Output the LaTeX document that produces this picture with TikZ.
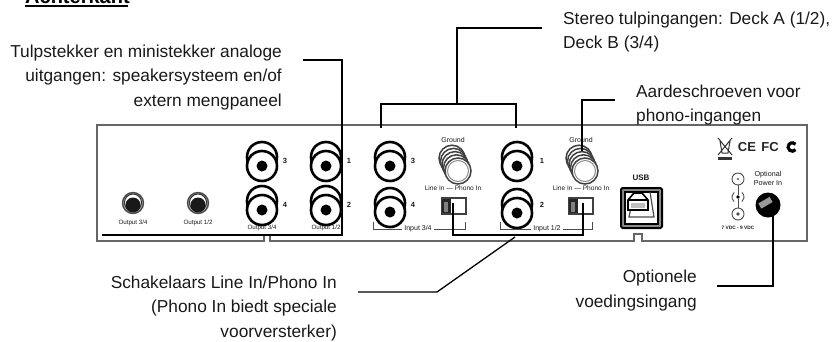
\documentclass[tikz,border=0pt]{standalone}
\usepackage{fontspec}
\setmainfont{Liberation Sans}
\usepackage{tikz}
\begin{document}
\begin{tikzpicture}[x=1pt,y=-1pt,
  callout/.style={font=\fontsize{17.3}{24.5}\selectfont,text=black!90,inner sep=0pt},
  tiny/.style={font=\fontsize{6.2}{9}\selectfont,text=black!90,inner sep=0pt},
  leader/.style={draw=black,line width=1.3pt},
  panel/.style={draw=black!60,line width=1.6pt},
  rca/.pic={
    \draw[line width=2.6pt] (0,-9) circle (15);
    \draw[line width=2.6pt,fill=white] (0,0) circle (15);
    \fill (0,0) circle (5.5);},
  minijack/.pic={
    \draw[black!70,line width=1.4pt,fill=black!35] (0,-1) circle (10.5);
    \draw[black!80,line width=1pt,fill=white] (0,-1.5) circle (8.5);
    \fill[black!90] (0,1) circle (7.5);},
  screw/.pic={
    \foreach \k in {4,3,2,1,0}
      \draw[black!75,line width=1.5pt,fill=white] (-1.5*\k,-3.2*\k) circle (13);
    \draw[black!45,line width=1pt] (0,0) circle (10.5);},
  slider/.pic={
    \draw[black!75,line width=1.3pt,fill=white] (-12,-8) rectangle (12,8);
    \fill[black!85] (-12,-7) rectangle (-3,7);
    \fill[black!50] (-10,-4) rectangle (-6,6);},
  bracket/.style={draw=black!70,line width=.9pt},
  ]
\useasboundingbox (0,0) rectangle (832,341);
% heading
\node[anchor=base west,inner sep=0pt,font=\fontsize{20}{22}\selectfont\bfseries] (title) at (25,3.5) {Achterkant};
\draw[black,line width=1.3pt] (25,6) -- (128,6);
% panel
\coordinate (pa) at (97,125);
\draw[panel] (pa) -- (807,125) -- (807,241) -- (642,241) -- (642,234) -- (634,234) -- (634,241)
  -- (270,241) -- (270,235) -- (264,235) -- (264,241) -- (97,241) -- cycle;
% connectors on the panel
\path (262,166) pic {rca} (262,210) pic {rca} (326,166) pic {rca} (326,210) pic {rca}
  (390,166) pic {rca} (390,212) pic {rca} (517,166) pic {rca} (517,213) pic {rca};
\path (133,204) pic {minijack} (198,204) pic {minijack};
\path (458,171) pic {screw} (585,171) pic {screw};
\path (454,206) pic {slider} (581,206) pic {slider};
\foreach \nr/\xx/\yy in {3/285/161,4/285/205,1/349/161,2/349/205,3/413/161,4/413/205,1/542/161,2/542/205}
  \node[tiny,font=\fontsize{7.5}{9}\selectfont\bfseries] (nr\nr\xx) at (\xx,\yy) {\nr};
\foreach \tx/\xx/\yy in {Output 3\slash 4/133/223,Output 1\slash 2/198/223,Output 3\slash 4/262/228,Output 1\slash 2/326/228}
  \node[tiny] at (\xx,\yy) {\tx};
\foreach \tx/\xx/\yy in {Input 3\slash 4/418/229,Input 1\slash 2/547/229,Ground/453/140,Ground/581/140}
  \node[tiny,font=\fontsize{7}{9}\selectfont] at (\xx,\yy) {\tx};
\node[tiny,font=\fontsize{6.6}{9}\selectfont] (sw34) at (453,188) {Line In --- Phono In};
\node[tiny,font=\fontsize{6.6}{9}\selectfont] (sw12) at (581,188) {Line In --- Phono In};
\draw[bracket] (373,222) -- (373,229) -- (402,229) (434,229) -- (465,229) -- (465,222);
\draw[bracket] (500,222) -- (500,229) -- (531,229) (563,229) -- (592,229) -- (592,222);
% usb
\node[tiny,font=\fontsize{8}{9}\selectfont\bfseries] (usblabel) at (641,178) {USB};
\node[draw=black,line width=2pt,rounded corners=1.5pt,fill=black!45,minimum width=41pt,minimum height=40pt,inner sep=0pt] (usb) at (641.5,208) {};
\draw[black,line width=2pt,fill=white] (625,192) rectangle (658,224);
\draw[black!70,line width=1.2pt] (634,192) -- (629,217) -- (654,217) -- (650,192);
\draw[black,line width=1.6pt,fill=white] (628,210) -- (628,200) -- (634,193) -- (642,193) -- (648,200) -- (648,210) -- cycle;
\draw[black,line width=1.8pt] (628,200) -- (648,200);
\fill[black!25] (631,203) rectangle (645,208);
% symbols
\draw[black!80,line width=1pt] (718,138) -- (732,155) (732,138) -- (718,155) (720,141) -- (722,153) -- (728,153) -- (730,141);
\fill[black!80] (718,157) rectangle (732,160);
\node[inner sep=0pt,font=\fontsize{13}{14}\selectfont\bfseries,text=black!85] (ce) at (747,147) {CE};
\node[inner sep=0pt,font=\fontsize{13}{14}\selectfont\bfseries,text=black!85] (fc) at (770,147) {FC};
\draw[black,line width=3.2pt] (795.5,149.7) arc (40:320:4.2);
\node[tiny,align=center,font=\fontsize{7.2}{9}\selectfont] (optional) at (768,178) {Optional\\Power In};
\node[tiny,font=\fontsize{4.8}{9}\selectfont\bfseries] (vdc) at (738,228) {7 VDC - 9 VDC};
\draw[black!70,line width=.9pt] (738,179) circle (6) (738,214) circle (6);
\fill[black!70] (738,179) circle (1.2) (738,214) circle (1.8);
\draw[black!70,line width=.9pt] (734.1,201.6) arc (130:230:6) (741.9,192.4) arc (-50:50:6);
\fill[black] (738,197) circle (1.8);
\draw[black!70,line width=.9pt] (738,185) -- (738,195) (738,199) -- (738,208);
\node[circle,fill=black,minimum size=25pt,inner sep=0pt] (power) at (768,205) {};
\fill[black!40,rotate around={30:(765,203)}] (759,200) rectangle (772,206);
% callout texts
\node[callout,align=right,anchor=north east] (tulptext) at (282,44.3) {Tulpstekker en ministekker analoge\\uitgangen: speakersysteem en/of\\extern mengpaneel};
\node[callout,align=left,anchor=north west] (stereotext) at (563,11.3) {Stereo tulpingangen: Deck A (1/2),\\Deck B (3/4)};
\node[callout,align=left,anchor=north west] (aardetext) at (636,84.3) {Aardeschroeven voor\\phono-ingangen};
\node[callout,align=right,anchor=north east] (schakeltext) at (337,275.3) {Schakelaars Line In/Phono In\\(Phono In biedt speciale\\voorversterker)};
\node[callout,align=right,anchor=north east] (voedingtext) at (697,270) {Optionele\\voedingsingang};
% leaders
\coordinate (tulpA) at (303,60);
\coordinate (tulpB) at (342,60);
\coordinate (tulpC) at (342,235);
\coordinate (tulpD) at (102,235);
\draw[leader] (tulpA) -- (tulpB) -- (tulpC) -- (tulpD);
\coordinate (stereoA) at (542,28);
\coordinate (stereoB) at (457,28);
\coordinate (stereoC) at (457,104);
\coordinate (stereoL) at (381,104);
\coordinate (stereoLe) at (381,128);
\coordinate (stereoR) at (516,104);
\coordinate (stereoRe) at (516,128);
\draw[leader] (stereoA) -- (stereoB) -- (stereoC);
\draw[leader] (stereoLe) -- (stereoL) -- (stereoR) -- (stereoRe);
\coordinate (aardeA) at (615,100);
\coordinate (aardeB) at (582,100);
\coordinate (aardeC) at (582,151);
\draw[leader] (aardeA) -- (aardeB) -- (aardeC);
\coordinate (swL) at (453,203);
\coordinate (swLb) at (453,235);
\coordinate (swRb) at (583,235);
\coordinate (swR) at (583,203);
\draw[leader] (swL) -- (swLb) -- (swRb) -- (swR);
\coordinate (schakelA) at (515,237);
\coordinate (schakelB) at (437,292);
\coordinate (schakelC) at (358,292);
\draw[leader] (schakelA) -- (schakelB) -- (schakelC);
\coordinate (voedingA) at (773,215);
\coordinate (voedingB) at (773,286);
\coordinate (voedingC) at (717,286);
\draw[leader] (voedingA) -- (voedingB) -- (voedingC);
\end{tikzpicture}
\end{document}
